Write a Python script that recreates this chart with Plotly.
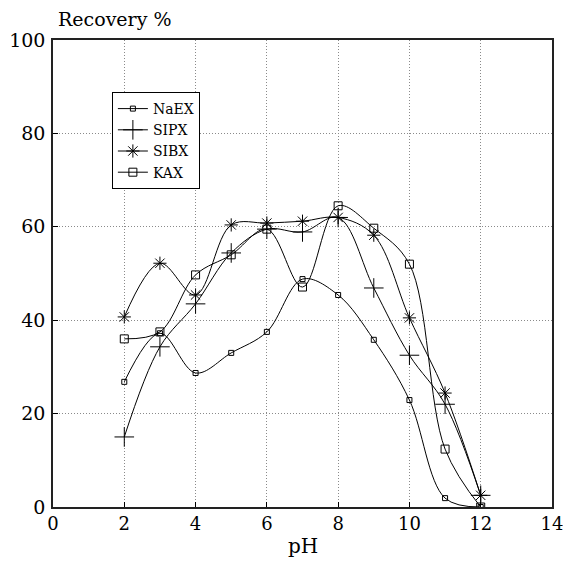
import plotly.graph_objects as go

ph = [2, 3, 4, 5, 6, 7, 8, 9, 10, 11, 12]
naex = [26.8, 37.2, 28.7, 33.0, 37.5, 48.8, 45.4, 35.8, 22.9, 1.9, 0.0]
sipx = [15.0, 34.3, 43.5, 54.4, 59.5, 58.9, 62.0, 46.9, 32.5, 22.0, 2.5]
sibx = [40.7, 52.2, 45.4, 60.4, 60.8, 61.2, 62.0, 58.2, 40.5, 24.4, 2.5]
kax = [36.0, 37.5, 49.7, 54.0, 59.5, 47.1, 64.5, 59.7, 52.0, 12.4, 0.0]

series = [
    ("NaEX", naex, "square-open", 5),
    ("SIPX", sipx, "cross-thin-open", 14),
    ("SIBX", sibx, "asterisk-open", 11),
    ("KAX", kax, "square-open", 8),
]

FONT = "DejaVu Serif"
fig = go.Figure()
for name, vals, sym, sz in series:
    fig.add_trace(go.Scatter(
        x=ph, y=vals, name=name, mode="lines+markers",
        line=dict(color="black", width=1, shape="spline", smoothing=1),
        marker=dict(symbol=sym, size=sz, color="black",
                    line=dict(color="black", width=1)),
    ))

axis_common = dict(
    showline=True, linecolor="#222222", linewidth=1.6, mirror=True,
    showgrid=True, gridcolor="#8a8a8a", griddash="1px,2px", gridwidth=1,
    ticks="inside", ticklen=5, tickcolor="black",
    zeroline=False, automargin=False, ticklabeloverflow="allow",
)
fig.update_xaxes(range=[0, 14], dtick=2, tick0=0, ticklabelstandoff=0,
                 tickfont=dict(family=FONT, size=18, color="black"), **axis_common)
fig.update_yaxes(range=[0, 100], dtick=20, tick0=0, ticklabelstandoff=2,
                 tickfont=dict(family=FONT, size=19, color="black"), **axis_common)

fig.update_layout(
    width=563, height=566,
    margin=dict(l=52.5, r=11, t=40, b=58.5),
    plot_bgcolor="white", paper_bgcolor="white",
    font=dict(family=FONT, color="black"),
    showlegend=True,
    legend=dict(x=(111 - 52) / 500, y=(508 - 93) / 467, xanchor="left", yanchor="top",
                bgcolor="white", bordercolor="black", borderwidth=1,
                font=dict(family=FONT, size=14, color="black"),
                tracegroupgap=0, itemwidth=30),
    annotations=[
        dict(text="Recovery %", xref="paper", yref="paper",
             x=(55 - 52) / 500, y=(508 - 20) / 467,
             xanchor="left", yanchor="middle", showarrow=False,
             font=dict(family=FONT, size=19, color="black")),
        dict(text="pH", xref="paper", yref="paper",
             x=0.5, y=(508 - 547) / 467,
             xanchor="center", yanchor="middle", showarrow=False,
             font=dict(family=FONT, size=20, color="black")),
    ],
)
fig.write_html("out.html",
               config={"displayModeBar": False},
               post_script="document.body.style.margin='0';document.body.style.overflow='hidden';")
